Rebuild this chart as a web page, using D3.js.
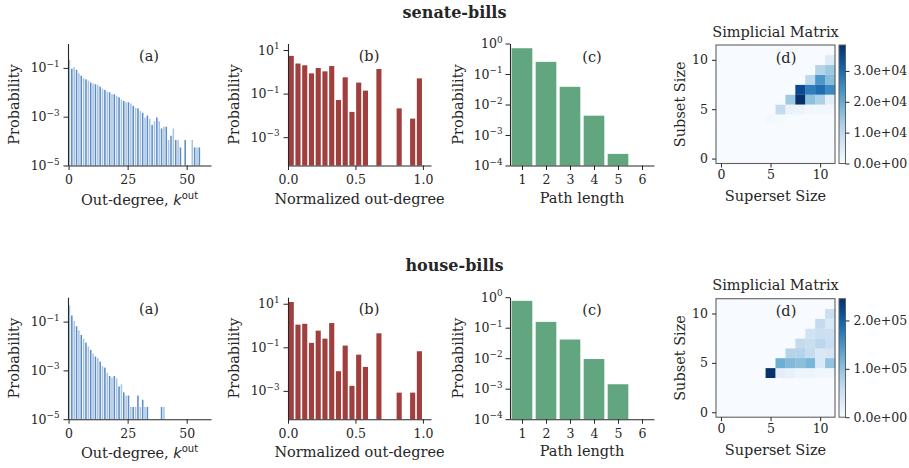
<!DOCTYPE html>
<html><head><meta charset="utf-8">
<script src="https://cdn.jsdelivr.net/npm/d3@7"></script>
<style>
body{margin:0;background:#fff}
svg text{font-family:"DejaVu Serif",serif;fill:#262626}
</style>
</head><body>
<svg id="chart" width="909" height="468"></svg>
<script>
// ---------- data ----------
const datasetTitles = ["senate-bills", "house-bills"];
const outDegreeK = [0,1,2,3,4,5,6,7,8,9,10,11,12,13,14,15,16,17,18,19,20,21,22,23,24,25,26,27,28,29,30,31,32,33,34,35,36,37,38,39,40,41,42,43,44,45,46,47,48,49,50,51,52,53,54,55];
const senateOutDeg = [0.214,0.0933,0.107,0.0832,0.0603,0.0479,0.038,0.0339,0.0302,0.0251,0.0229,0.0214,0.02,0.017,0.0141,0.0126,0.0107,0.01,0.0083,0.0083,0.0072,0.0062,0.005,0.0044,0.0039,0.0039,0.0035,0.0028,0.0023,0.0022,0.0017,0.00145,0.00091,0.00112,0.00083,0.00046,0.00065,0.00093,0.00065,0.00033,0.00039,0.00039,0.00011,0.000166,0.00033,0.00011,0.00011,0.000055,null,0.00011,null,null,0.00011,0.000055,0.000055,0.000055];
const houseOutDeg = [0.457,0.178,0.107,0.0646,0.0437,0.0282,0.02,0.0138,0.0095,0.0069,0.0049,0.0037,0.0032,0.0023,0.0015,0.0013,0.00079,0.00059,0.00051,0.00059,0.00047,0.00022,0.00027,0.000126,0.000093,0.000093,0.0000316,0.0000316,0.0000316,0.000093,0.0000316,0.000063,0.0000316,0.0000316,null,null,null,null,null,0.0000316,0.0000316];
const normBinStart = [0,0.05,0.1,0.15,0.2,0.25,0.3,0.35,0.4,0.45,0.5,0.55,0.6,0.65,0.7,0.75,0.8,0.85,0.9,0.95];
const senateNorm = [5.4,2.4,2.0,0.85,1.5,1.05,1.85,0.051,0.56,0.0145,0.32,0.137,null,1.35,null,null,0.021,null,0.0071,0.5];
const houseNorm = [12,1.1,1.2,0.16,0.58,0.25,1.3,0.008,0.12,0.0017,0.046,0.0126,null,0.44,null,null,0.00083,null,0.00083,0.066];
const pathLength = [1,2,3,4,5,6];
const senatePath = [0.70,0.25,0.038,0.0043,0.00024,0];
const housePath = [0.76,0.155,0.041,0.0094,0.0014,0];
const matrixSizes = [0,1,2,3,4,5,6,7,8,9,10,11];
// [superset size, subset size, count]
const senateMatrix = [[5,4,770],[6,4,580],[6,5,9600],[7,5,2700],[8,5,2300],[9,5,1150],[10,5,1150],[11,5,1150],
  [7,6,14200],[8,6,38400],[9,6,16100],[10,6,12700],[11,6,3500],
  [8,7,34600],[9,7,26900],[10,7,29200],[11,7,25300],
  [9,8,10400],[10,8,23000],[11,8,16500],[10,9,11500],[11,9,14200],[11,10,5000]];
const houseMatrix = [[5,4,245000],[6,4,24500],[7,4,19600],[8,4,12250],[9,4,12250],[10,4,9800],[11,4,9800],
  [6,5,122500],[7,5,110000],[8,5,103000],[9,5,115000],[10,5,34300],[11,5,98000],
  [7,6,73500],[8,6,73500],[9,6,58800],[10,6,36750],[11,6,41650],
  [8,7,61000],[9,7,54000],[10,7,68600],[11,7,56000],
  [9,8,46500],[10,8,54000],[11,8,51500],[10,9,61000],[11,9,36750],[11,10,54000]];
const senateVmax = 38400, houseVmax = 245000;
const senateCbTicks = [0,10000,20000,30000];
const houseCbTicks = [0,100000,200000];
const outDegTicks = [0,25,50], normTicks = [0,0.5,1.0], matrixTicks = [0,5,10];

// ---------- drawing ----------
const svg = d3.select("#chart");
const INK = "#262626";
const LABEL_FS = 14.5, TICK_FS = 12.5;
const rows = [
  {title: datasetTitles[0], top: 43.5, outDeg: senateOutDeg, norm: senateNorm, path: senatePath, matrix: senateMatrix, vmax: senateVmax, cbTicks: senateCbTicks},
  {title: datasetTitles[1], top: 297.2, outDeg: houseOutDeg, norm: houseNorm, path: housePath, matrix: houseMatrix, vmax: houseVmax, cbTicks: houseCbTicks}
];
const H = 122;

function style(g) {
  g.attr("font-family", null).attr("font-size", null);
  g.selectAll("path.domain").attr("stroke", INK).attr("stroke-width", 1.1);
  g.selectAll(".tick line").attr("stroke", INK).attr("stroke-width", 1);
  g.selectAll(".tick text").attr("fill", INK).attr("font-size", TICK_FS).attr("font-family", "DejaVu Serif");
}
function logLabels(g) {
  g.selectAll(".tick text").each(function(d) {
    const t = d3.select(this);
    const e = Math.round(Math.log10(d));
    t.text(null);
    t.append("tspan").text("10");
    t.append("tspan").attr("dy", -5.5).attr("font-size", 8.8).text((e < 0 ? "\u2212" : "") + Math.abs(e));
  });
}
function ylabel(x, yc, txt) {
  svg.append("text").attr("transform", `translate(${x},${yc}) rotate(-90)`)
    .attr("text-anchor", "middle").attr("font-size", LABEL_FS).text(txt);
}
function xlabel(xc, y, txt) {
  return svg.append("text").attr("x", xc).attr("y", y).attr("text-anchor", "middle").attr("font-size", LABEL_FS).text(txt);
}
function plabel(x, y, txt) {
  svg.append("text").attr("x", x).attr("y", y).attr("text-anchor", "middle").attr("font-size", LABEL_FS).text(txt);
}

rows.forEach(r => {
  const top = r.top, bot = r.top + H;
  svg.append("text").attr("x", 454.5).attr("y", top - 26).attr("text-anchor", "middle")
    .attr("font-size", 16).attr("font-weight", "bold").text(r.title);

  // (a) out-degree
  {
    const x = d3.scaleLinear([-0.25, 60.3], [68, 211]);
    const y = d3.scaleLog([1e-5, 1], [bot, top]);
    const data = outDegreeK.map((k, i) => ({k, v: r.outDeg[i]})).filter(d => d.v != null);
    svg.append("g").selectAll("rect").data(data).join("rect")
      .attr("x", d => x(d.k) + 0.1).attr("width", d => x(d.k + 0.65) - x(d.k))
      .attr("y", d => y(d.v)).attr("height", d => bot - y(d.v))
      .attr("fill", d => d.k % 2 === 0 ? "#a8c3e3" : "#5b8cc4");
    const gx = svg.append("g").attr("transform", `translate(0,${bot})`)
      .call(d3.axisBottom(x).tickValues(outDegTicks).tickSize(4.5).tickPadding(5).tickSizeOuter(0));
    style(gx);
    const gy = svg.append("g").attr("transform", "translate(68,0)")
      .call(d3.axisLeft(y).tickValues([1e-5, 1e-3, 1e-1]).tickSize(4.5).tickPadding(4).tickSizeOuter(0).tickFormat(() => ""));
    style(gy); logLabels(gy);
    ylabel(19, (top + bot) / 2, "Probability");
    const xl = xlabel(139.5, bot + 39, "Out-degree, ");
    xl.append("tspan").attr("font-family", "DejaVu Sans").attr("font-style", "italic").text("k");
    xl.append("tspan").attr("font-family", "DejaVu Sans").attr("font-size", 10).attr("dy", -6).text("out");
    plabel(149, top + 17, "(a)");
  }

  // (b) normalized out-degree
  {
    const x = d3.scaleLinear([0, 1.06], [288, 431]);
    const y = d3.scaleLog([Math.pow(10, -4.3), Math.pow(10, 1.3)], [bot, top]);
    const data = normBinStart.map((b, i) => ({b, v: r.norm[i]})).filter(d => d.v != null);
    svg.append("g").selectAll("rect").data(data).join("rect")
      .attr("x", d => x(d.b + 0.005)).attr("width", d => x(d.b + 0.043) - x(d.b + 0.005))
      .attr("y", d => y(d.v)).attr("height", d => bot - y(d.v))
      .attr("fill", "#a13f3f");
    const gx = svg.append("g").attr("transform", `translate(0,${bot})`)
      .call(d3.axisBottom(x).tickValues(normTicks).tickFormat(d3.format(".1f")).tickSize(4.5).tickPadding(5).tickSizeOuter(0));
    style(gx);
    const gy = svg.append("g").attr("transform", "translate(288,0)")
      .call(d3.axisLeft(y).tickValues([1e-3, 1e-1, 10]).tickSize(4.5).tickPadding(4).tickSizeOuter(0).tickFormat(() => ""));
    style(gy); logLabels(gy);
    ylabel(238.5, (top + bot) / 2, "Probability");
    xlabel(359.5, bot + 38, "Normalized out-degree");
    plabel(369, top + 17, "(b)");
  }

  // (c) path length
  {
    const x = d3.scaleLinear([0.5, 6.5], [510, 654]);
    const y = d3.scaleLog([1e-4, 1], [bot, top]);
    const data = pathLength.map((p, i) => ({p, v: r.path[i]})).filter(d => d.v > 0);
    svg.append("g").selectAll("rect").data(data).join("rect")
      .attr("x", d => x(d.p - 0.43)).attr("width", d => x(d.p + 0.43) - x(d.p - 0.43))
      .attr("y", d => y(d.v)).attr("height", d => bot - y(d.v))
      .attr("fill", "#62a67f");
    const gx = svg.append("g").attr("transform", `translate(0,${bot})`)
      .call(d3.axisBottom(x).tickValues(pathLength).tickFormat(d3.format("d")).tickSize(4.5).tickPadding(5).tickSizeOuter(0));
    style(gx);
    const gy = svg.append("g").attr("transform", "translate(510,0)")
      .call(d3.axisLeft(y).tickValues([1e-4, 1e-3, 1e-2, 1e-1, 1]).tickSize(4.5).tickPadding(3).tickSizeOuter(0).tickFormat(() => ""));
    style(gy); logLabels(gy);
    ylabel(462.5, (top + bot) / 2, "Probability");
    xlabel(582, bot + 37, "Path length");
    plabel(592, top + 18, "(c)");
  }

  // (d) simplicial matrix
  {
    const t = top + 1.5, b = top + 120;
    const x = d3.scaleLinear([-0.5, 11.5], [716, 835]);
    const y = d3.scaleLinear([-0.5, 11.5], [b, t]);
    const lookup = new Map(r.matrix.map(d => [d[0] + "," + d[1], d[2]]));
    const cells = [];
    matrixSizes.forEach(i => matrixSizes.forEach(j => cells.push({i, j, v: lookup.get(i + "," + j) || 0})));
    const color = d3.scaleSequential(d3.interpolateBlues).domain([0, r.vmax]);
    svg.append("g").selectAll("rect").data(cells).join("rect")
      .attr("x", d => x(d.i - 0.5)).attr("width", d => x(d.i + 0.5) - x(d.i - 0.5) + 0.3)
      .attr("y", d => y(d.j + 0.5)).attr("height", d => y(d.j - 0.5) - y(d.j + 0.5) + 0.3)
      .attr("fill", d => color(d.v));
    svg.append("rect").attr("x", 716).attr("y", t).attr("width", 119).attr("height", b - t)
      .attr("fill", "none").attr("stroke", "#606060").attr("stroke-width", 1.1);
    const gx = svg.append("g").attr("transform", `translate(0,${b})`)
      .call(d3.axisBottom(x).tickValues(matrixTicks).tickSize(4).tickPadding(3).tickSizeOuter(0));
    style(gx); gx.select("path.domain").remove();
    const gy = svg.append("g").attr("transform", "translate(716,0)")
      .call(d3.axisLeft(y).tickValues(matrixTicks).tickSize(4).tickPadding(4).tickSizeOuter(0));
    style(gy); gy.select("path.domain").remove();
    ylabel(685, (t + b) / 2, "Subset Size");
    xlabel(775.5, top + 157.5, "Superset Size");
    svg.append("text").attr("x", 775.5).attr("y", top - 7).attr("text-anchor", "middle").attr("font-size", LABEL_FS).text("Simplicial Matrix");
    plabel(786, top + 19, "(d)");

    // colorbar
    const cy = d3.scaleLinear([0, r.vmax], [b, t]);
    const gid = "grad" + r.title.replace(/\W/g, "");
    const grad = svg.append("defs").append("linearGradient").attr("id", gid)
      .attr("x1", 0).attr("y1", 1).attr("x2", 0).attr("y2", 0);
    d3.range(0, 1.0001, 0.05).forEach(s => grad.append("stop").attr("offset", s).attr("stop-color", d3.interpolateBlues(s)));
    svg.append("rect").attr("x", 839).attr("y", t).attr("width", 6.5).attr("height", b - t)
      .attr("fill", `url(#${gid})`).attr("stroke", "#606060").attr("stroke-width", 1);
    const gc = svg.append("g").attr("transform", "translate(845.5,0)")
      .call(d3.axisRight(cy).tickValues(r.cbTicks).tickSize(4).tickPadding(4).tickSizeOuter(0)
        .tickFormat(d => d3.format(".1e")(d).replace(/e([+-])(\d)$/, "e$10$2")));
    style(gc); gc.select("path.domain").remove();
  }
});
</script>
</body></html>
